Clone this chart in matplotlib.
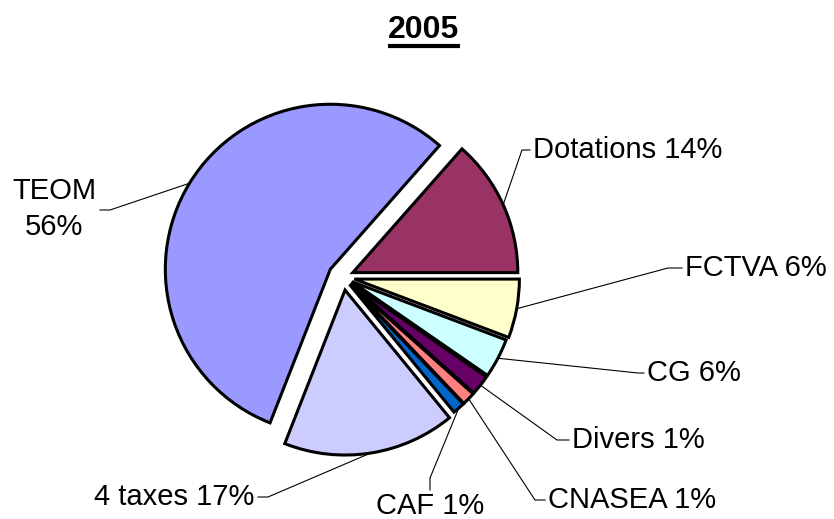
import numpy as np
import matplotlib
matplotlib.use("Agg")
import matplotlib.pyplot as plt

plt.rcParams['font.family'] = ['Liberation Sans', 'DejaVu Sans']

# data (counterclockwise from 3 o'clock)
labels = ["Dotations", "TEOM", "4 taxes", "CAF", "CNASEA", "Divers", "CG", "FCTVA"]
pct_text = ["14%", "56%", "17%", "1%", "1%", "1%", "6%", "6%"]
shares = [13.6, 56.0, 17.0, 1.2, 1.3, 2.0, 3.9, 5.8]
colors = ["#993366", "#9999FF", "#CCCCFF", "#0066CC", "#FF8080", "#660066", "#CCFFFF", "#FFFFCC"]
explode = [0.065, 0.09, 0.08, 0.06, 0.06, 0.06, 0.06, 0.07]

W, H = 834, 519
fig = plt.figure(figsize=(W / 100, H / 100), dpi=100)
ax = fig.add_axes([0, 0, 1, 1])

def P(px, py):
    # pixel coords (top-left origin) -> data coords
    return px, H - py

cx, cy = P(343, 277)
R = 165
# pie's explode is in data units, so scale by radius
wedges, _ = ax.pie(shares, colors=colors, explode=[e * R for e in explode],
                   startangle=0, counterclock=True, center=(cx, cy), radius=R,
                   wedgeprops=dict(edgecolor="black", linewidth=2.2))
ax.set_xlim(0, W)
ax.set_ylim(0, H)
ax.set_aspect("equal")
ax.axis("off")

# label layout: text anchor (px), alignment, elbow points (px)
layout = {
    "Dotations": dict(xy=(533, 150), ha="left", elbow=[(530, 150), (522, 150)]),
    "TEOM":      dict(xy=(54, 209), ha="center", elbow=[(100, 210), (110, 210)]),
    "4 taxes":   dict(xy=(254, 497), ha="right", elbow=[(258, 497), (268, 497)]),
    "CAF":       dict(xy=(430, 506), ha="center", elbow=[(430, 490), (430, 478)]),
    "CNASEA":    dict(xy=(548, 500), ha="left", elbow=[(545, 500), (535, 500)]),
    "Divers":    dict(xy=(572, 440), ha="left", elbow=[(569, 440), (557, 440)]),
    "CG":        dict(xy=(647, 373), ha="left", elbow=[(644, 373), (638, 373)]),
    "FCTVA":     dict(xy=(685, 268), ha="left", elbow=[(682, 268), (668, 268)]),
}

fs = 21
for w, lab, pt in zip(wedges, labels, pct_text):
    L = layout[lab]
    mid = np.deg2rad((w.theta1 + w.theta2) / 2)
    ex, ey = w.center[0] + w.r * np.cos(mid), w.center[1] + w.r * np.sin(mid)
    pts = [P(*p) for p in L["elbow"]] + [(ex, ey)]
    xs, ys = zip(*pts)
    ax.plot(xs, ys, color="black", linewidth=0.8)
    txt = lab + "\n" + pt if lab == "TEOM" else lab + " " + pt
    tx, ty = P(*L["xy"])
    ax.text(tx, ty, txt, ha=L["ha"], va="center", fontsize=fs,
            multialignment="center", linespacing=1.32)

# title, underlined
tx, ty = P(424, 30)
t = ax.text(tx, ty, "2005", ha="center", va="center", fontsize=23, fontweight="bold")
fig.canvas.draw()
bb = t.get_window_extent().transformed(ax.transData.inverted())
ax.plot([bb.x0, bb.x1], [bb.y0 - 1, bb.y0 - 1], color="black", linewidth=3,
        solid_capstyle="butt")

fig.savefig("out.png", dpi=100)
